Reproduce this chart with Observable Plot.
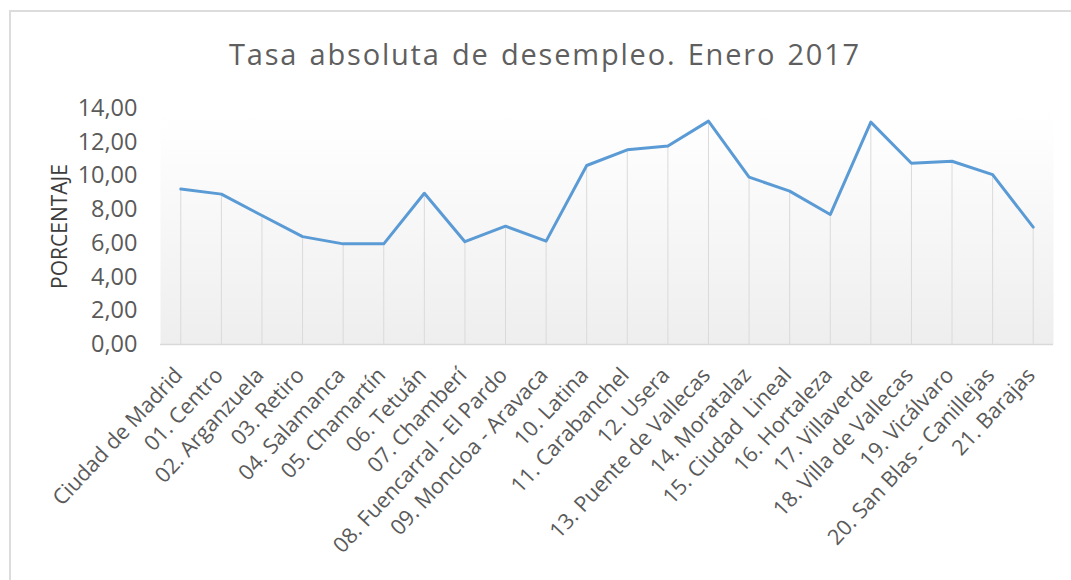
<!DOCTYPE html>
<html>
<head>
<meta charset="utf-8">
<script src="https://cdn.jsdelivr.net/npm/d3@7"></script>
<script src="https://cdn.jsdelivr.net/npm/@observablehq/plot@0.6"></script>
<style>
  html, body { margin: 0; padding: 0; background: #fff; }
  #wrap { position: relative; width: 1071px; height: 580px; overflow: hidden; font-family: "Open Sans", Lato, sans-serif; }
  #border { position: absolute; left: 9px; top: 10px; right: -5px; bottom: -5px; border-left: 2px solid #dcdcdc; border-top: 2px solid #dcdcdc; pointer-events: none; }
  #title { height: 90px; box-sizing: border-box; padding-top: 37px; padding-left: 19px; text-align: center; font-size: 29px; line-height: 34px; color: #5f5f5f; letter-spacing: 1.8px; word-spacing: 2px; white-space: nowrap; }
</style>
</head>
<body>
<div id="wrap">
  <div id="border"></div>
  <div id="title">Tasa absoluta de desempleo. Enero 2017</div>
  <div id="chart"></div>
</div>
<script>
const categories = [
  "Ciudad de Madrid", "01. Centro", "02. Arganzuela", "03. Retiro", "04. Salamanca",
  "05. Chamartín", "06. Tetuán", "07. Chamberí", "08. Fuencarral - El Pardo",
  "09. Moncloa - Aravaca", "10. Latina", "11. Carabanchel", "12. Usera",
  "13. Puente de Vallecas", "14. Moratalaz", "15. Ciudad  Lineal", "16. Hortaleza",
  "17. Villaverde", "18. Villa de Vallecas", "19. Vicálvaro",
  "20. San Blas - Canillejas", "21. Barajas"
];
const tasa = [
  9.22, 8.92, 7.65, 6.40, 5.97, 5.97, 8.97, 6.10, 7.02, 6.13, 10.62,
  11.55, 11.77, 13.25, 9.93, 9.10, 7.71, 13.19, 10.75, 10.87, 10.08, 6.96
];
const yTicks = [0, 2, 4, 6, 8, 10, 12, 14];
const yLabel = "PORCENTAJE";

const data = categories.map((c, i) => ({ distrito: c, valor: tasa[i] }));

const chart = Plot.plot({
  width: 1071,
  height: 490,
  marginLeft: 160,
  marginRight: 18,
  marginTop: 18,
  marginBottom: 236,
  style: { fontFamily: "'Open Sans', Lato, sans-serif", background: "transparent", overflow: "visible" },
  x: { type: "point", domain: categories, padding: 0.5, round: false, label: null },
  y: { domain: [0, 14], ticks: yTicks, label: yLabel },
  marks: [
    Plot.frame({ fill: "url(#plotbg)", stroke: null }),
    Plot.ruleX(data, { x: "distrito", y1: 0, y2: "valor", stroke: "#dadada", strokeWidth: 1 }),
    Plot.axisY({
      ticks: yTicks, tickSize: 0, tickPadding: 23, fontSize: 23.5, fill: "#5a5a5a",
      tickFormat: d => d.toFixed(2).replace(".", ","),
      label: yLabel, labelAnchor: "center", labelArrow: "none", labelOffset: 108
    }),
    Plot.axisX({
      tickSize: 0, tickPadding: 27, tickRotate: -47, fontSize: 21.5, fill: "#5a5a5a", label: null, dx: -2
    }),
    Plot.ruleY([0], { stroke: "#d9d9d9", strokeWidth: 1.5 }),
    Plot.line(data, { x: "distrito", y: "valor", stroke: "#5b9bd5", strokeWidth: 3, strokeLinejoin: "round" })
  ]
});

// gradient definition for the plot background
const svg = d3.select(chart);
const defs = svg.insert("defs", ":first-child");
const grad = defs.append("linearGradient").attr("id", "plotbg").attr("x1", 0).attr("y1", 0).attr("x2", 0).attr("y2", 1);
grad.append("stop").attr("offset", "0%").attr("stop-color", "#ffffff");
grad.append("stop").attr("offset", "10%").attr("stop-color", "#fefefe");
grad.append("stop").attr("offset", "100%").attr("stop-color", "#eeeeee");

// style the y-axis label
svg.selectAll("g[aria-label='y-axis label']")
  .attr("font-size", 21).attr("fill", "#3c3c3c");
svg.selectAll("g[aria-label='y-axis label'] text")
  .attr("font-size", 21).attr("fill", "#3c3c3c");

document.getElementById("chart").appendChild(chart);
</script>
</body>
</html>
